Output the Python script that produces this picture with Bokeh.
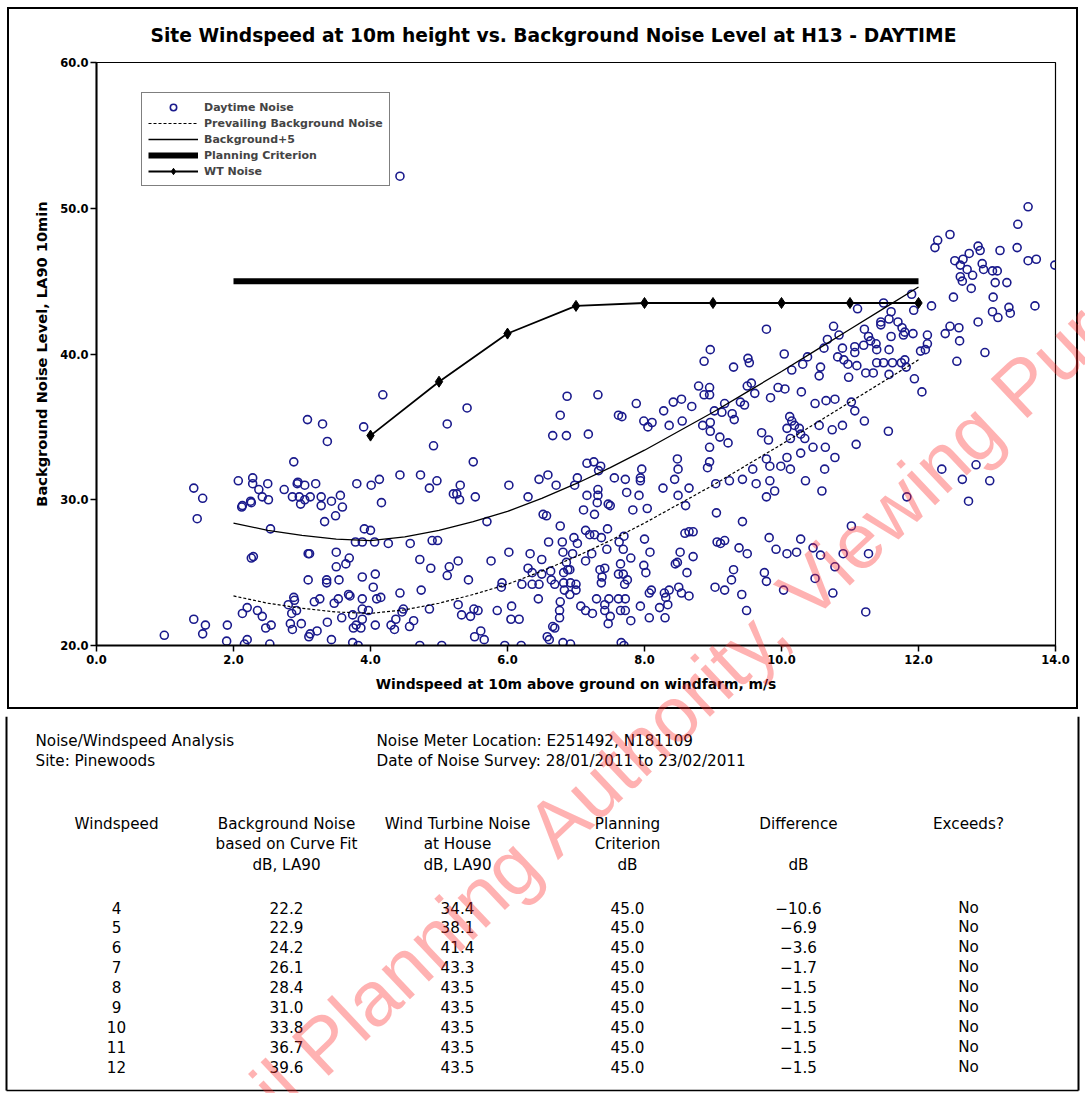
from bokeh.plotting import figure
from bokeh.layouts import column, row
from bokeh.models import (Range1d, Legend, LegendItem, FixedTicker,
                          NumeralTickFormatter)
from bokeh.core.properties import value
from bokeh.embed import file_html
from bokeh.resources import INLINE

# ---------------- data ----------------
wind_speed = [
    0.99, 1.42, 1.55, 1.47, 1.42, 1.59, 1.55, 1.91, 1.90,
    2.07, 2.12, 2.13, 2.25, 2.28, 2.28, 2.37, 2.42, 2.50, 2.51, 2.26, 2.54, 2.26, 2.29,
    2.20, 2.13, 2.35, 2.42, 2.55, 2.47, 2.20, 2.16, 2.53,
    2.74, 2.88, 2.93, 2.94, 3.04, 3.20, 2.86, 2.96, 2.98, 3.12, 3.04,
    3.08, 3.30, 3.37, 3.28, 3.28, 3.43, 3.56, 3.59, 3.33, 3.49,
    3.80, 3.90, 4.18, 4.01, 4.13, 4.16, 3.91, 4.00, 3.78, 3.88, 4.06, 4.26, 4.58,
    4.43, 4.73, 4.97, 4.86, 4.92, 5.12, 5.41, 5.21, 5.26, 5.31, 5.30,
    4.90, 4.98, 4.72, 4.88, 5.15, 5.28, 5.12, 5.43,
    4.74, 4.43, 4.86, 5.28, 5.33, 5.46, 4.72, 5.04,
    3.09, 3.11, 3.50, 3.69, 3.50, 3.64, 3.09, 3.36, 3.36, 3.54, 3.88, 4.07, 4.04,
    3.68, 3.70, 3.53, 3.47, 3.26, 3.18, 2.88, 2.89, 2.80, 2.85, 2.92,
    3.88, 4.09, 4.15, 3.88, 3.97, 3.74, 3.58, 4.48, 4.46, 4.37, 4.30, 4.35, 4.57, 4.63,
    4.07, 3.88, 3.86, 3.75, 3.79, 3.37, 2.99, 2.83, 2.86, 3.22, 3.10, 3.12, 3.43, 3.74, 3.82,
    4.43,
    6.87, 7.32, 6.77, 7.88, 7.62, 7.67, 6.66, 6.86, 7.18, 7.99, 8.11, 8.05, 8.28, 8.42, 8.54,
    8.36, 8.55, 8.69, 8.79, 8.95, 8.87, 8.95, 9.02, 9.13, 9.17, 8.85, 8.96, 8.96, 9.28, 9.31,
    9.40, 9.46, 9.10, 9.22, 8.95, 9.50, 9.61, 9.56, 9.84, 9.95, 10.05, 9.71, 9.81, 10.08,
    8.48, 8.49, 8.44, 8.95, 8.92, 9.04, 9.24, 9.43, 9.63, 9.58, 9.78, 9.83, 9.99, 10.08,
    9.83, 9.90, 9.78, 9.05, 9.43,
    5.53, 6.02, 6.30, 6.46, 6.59, 6.71, 7.02, 6.98, 7.16, 7.26, 7.36, 7.33, 7.56, 7.72, 7.94,
    7.96, 7.92, 7.94, 7.74, 7.50, 7.47, 7.32, 7.32, 7.16, 7.31, 7.11, 7.27, 7.83, 8.04, 8.27,
    8.49, 8.65, 8.60,
    5.70, 6.52, 6.57, 6.77, 7.14, 7.20, 7.27, 7.37, 7.46, 7.70, 7.63, 8.00, 8.59, 8.65, 8.71,
    9.06, 9.11, 9.17, 9.38, 9.50, 9.82, 9.92, 10.08,
    6.60, 6.80, 6.97, 7.02, 6.02, 6.33, 6.50, 5.76, 6.81, 6.95, 6.86, 6.91, 7.14, 7.23, 7.45,
    7.69, 7.80, 7.65, 8.08, 7.99, 8.02, 8.52, 8.48, 8.45, 8.71, 8.62, 9.30, 9.27, 9.75, 9.78,
    6.30, 6.36, 6.50, 6.21, 6.36, 6.46, 6.63, 6.64, 6.69, 6.82, 6.88, 6.82, 6.92, 7.00, 7.00,
    6.83, 6.91, 7.35, 7.42, 7.38, 7.37, 7.62, 7.69, 7.75, 7.71, 5.92, 5.91, 6.45, 6.06, 5.85,
    5.57, 5.51, 6.05, 6.17,
    6.77, 6.76, 6.76, 7.07, 7.14, 7.24, 7.30, 7.42, 7.48, 7.42, 7.50, 7.47, 7.62, 7.72, 7.65,
    7.72, 7.80, 7.94, 8.07, 8.10, 8.07, 8.29, 8.36, 8.31, 8.50, 8.54, 8.65, 8.22, 8.34, 8.30,
    9.03, 9.17, 9.42, 9.49, 10.03,
    6.66, 6.69, 6.58, 6.61, 5.61, 5.66, 5.52, 5.96, 6.20, 6.81, 6.92, 7.66, 7.70, 5.50,
    9.78, 8.96, 8.87, 9.30, 9.51, 9.53, 10.04, 10.15,
    10.76, 10.67, 10.84, 11.11, 11.49, 11.90, 11.93, 11.60, 11.57, 11.45, 11.45, 11.70, 11.76,
    11.80, 11.78, 11.92, 11.21, 11.60, 11.27, 11.30, 11.38, 11.39, 11.07, 11.07, 11.20, 11.57,
    10.89, 10.82, 10.91, 10.97, 11.10, 10.98, 11.39, 11.49, 11.62, 11.75, 11.80, 11.82, 11.57,
    11.94, 11.23, 11.34, 10.57, 10.55,
    11.02, 11.07, 11.21, 11.56, 11.09, 10.78, 10.65, 10.49, 10.89, 10.74, 10.78, 10.63, 10.55,
    10.46, 10.64, 10.28, 10.29, 10.26, 10.34,
    10.12, 10.15, 10.19, 10.13, 10.28, 10.31, 10.38, 10.62,
    13.60, 13.45, 12.46, 12.28, 12.24, 12.87, 12.90, 13.19, 13.44, 13.60, 13.72, 13.99, 12.53,
    12.65, 12.74, 12.61, 12.71, 12.79, 12.64, 12.61, 12.77, 12.93, 12.95, 13.08, 13.15, 13.12,
    13.29, 13.09, 13.32, 13.34, 13.08, 13.16, 13.70, 12.51, 12.87, 12.19, 12.46, 12.59, 12.39,
    12.60, 12.56, 12.97, 12.13, 12.13, 12.10, 12.03, 12.05,
    12.34, 12.84, 12.64, 13.04, 12.73, 11.83, 10.13, 10.35, 10.59, 11.02, 10.28, 10.22, 10.46,
    10.57, 10.90, 11.27, 10.78, 10.49, 10.75, 11.23,
]
noise_level = [
    20.7, 30.8, 30.1, 28.7, 21.8, 21.4, 20.8, 21.4, 20.3,
    31.3, 29.5, 29.6, 29.9, 31.5, 31.1, 30.7, 30.2, 31.1, 30.0, 29.8, 28.0, 26.0, 26.1,
    22.6, 22.2, 22.4, 22.0, 21.4, 21.2, 20.4, 20.1, 20.1,
    30.7, 32.6, 31.1, 31.2, 31.0, 31.1, 30.2, 30.2, 29.7, 30.2, 30.0,
    35.5, 35.2, 34.0, 30.2, 29.6, 29.9, 30.3, 29.5, 28.5, 28.9,
    31.1, 35.0, 37.2, 31.0, 31.4, 29.8, 28.0, 27.9, 27.1, 27.1, 27.1, 27.0, 27.0,
    31.7, 31.7, 31.3, 30.8, 33.7, 35.2, 36.3, 30.4, 30.4, 31.0, 30.0,
    27.2, 27.2, 25.9, 25.3, 25.4, 25.8, 24.8, 24.5,
    23.8, 23.6, 22.5, 22.8, 22.1, 22.0, 20.0, 20.0,
    26.3, 26.3, 26.4, 26.0, 25.4, 25.6, 24.5, 24.5, 24.3, 24.5, 24.7, 24.9, 24.0,
    23.5, 23.4, 23.2, 22.9, 23.2, 23.0, 23.3, 23.1, 22.8, 22.2, 22.4,
    23.2, 23.2, 23.3, 22.5, 22.4, 22.1, 21.9, 22.5, 22.3, 21.8, 21.4, 21.1, 21.3, 21.7,
    21.4, 21.8, 21.2, 21.2, 21.4, 21.6, 21.5, 21.5, 21.1, 21.0, 20.6, 20.8, 20.4, 20.2, 20.0,
    52.2,
    37.1, 37.2, 35.8, 36.6, 35.8, 35.7, 34.4, 34.4, 34.5, 35.4, 35.3, 35.0, 36.1, 36.7, 36.9,
    35.1, 35.4, 36.4, 37.8, 37.7, 37.2, 37.2, 36.1, 36.0, 36.6, 35.1, 35.3, 34.7, 35.9, 35.5,
    36.7, 36.5, 34.3, 33.9, 33.6, 37.8, 37.3, 38.0, 37.0, 37.7, 37.6, 34.6, 34.1, 34.9,
    32.8, 32.1, 31.4, 32.6, 32.2, 31.1, 31.3, 31.4, 31.1, 32.1, 32.8, 32.3, 32.3, 32.9,
    31.3, 30.6, 30.2, 29.1, 28.5,
    30.2, 31.0, 30.2, 31.4, 31.7, 31.0, 31.5, 31.0, 32.5, 32.6, 32.3, 32.0, 31.5, 31.4, 31.5,
    32.1, 30.3, 31.3, 30.5, 29.6, 29.7, 30.7, 30.3, 30.3, 29.8, 29.3, 29.0, 29.3, 29.4, 30.8,
    30.3, 30.8, 29.6,
    28.5, 29.0, 28.9, 28.2, 27.9, 27.6, 27.6, 27.4, 28.0, 27.5, 27.1, 27.3, 27.7, 27.8, 27.8,
    27.1, 27.0, 27.2, 26.7, 26.3, 27.4, 26.6, 26.3,
    27.1, 27.1, 27.4, 27.0, 26.4, 26.3, 25.9, 25.8, 26.4, 26.3, 25.7, 25.2, 25.8, 26.3, 26.6,
    26.6, 26.0, 25.6, 26.4, 25.5, 25.0, 26.4, 25.7, 25.6, 26.1, 25.0, 25.2, 24.5, 25.0, 24.4,
    25.3, 25.0, 24.9, 24.2, 24.2, 24.2, 25.1, 24.5, 24.2, 25.0, 25.2, 24.3, 24.3, 24.2, 23.8,
    23.8, 23.5, 25.2, 25.3, 24.7, 24.3, 24.9, 24.9, 24.5, 24.2, 24.3, 24.0, 23.2, 22.7, 22.4,
    22.4, 22.5, 21.8, 21.8,
    23.0, 22.4, 21.9, 22.7, 22.4, 22.2, 23.2, 22.8, 23.2, 22.4, 22.0, 21.5, 23.2, 23.2, 22.4,
    22.4, 21.7, 22.7, 21.9, 23.8, 23.6, 23.6, 23.8, 23.3, 24.0, 23.6, 23.4, 22.6, 22.8, 21.9,
    24.0, 23.8, 23.5, 22.4, 23.8,
    21.3, 21.2, 20.6, 20.4, 21.0, 20.4, 20.6, 20.0, 20.0, 20.2, 20.1, 20.2, 20.0, 32.6,
    41.7, 40.3, 39.5, 39.1, 39.7, 39.4, 40.0, 38.9,
    41.9, 41.0, 41.3, 43.1, 43.5, 44.1, 43.0, 42.9, 42.4, 42.2, 42.0, 42.2, 41.8,
    41.5, 41.3, 41.4, 41.7, 41.2, 41.2, 40.9, 40.7, 40.3, 40.5, 40.1, 40.6, 40.3,
    40.4, 39.8, 39.6, 39.3, 39.2, 38.4, 39.4, 39.4, 39.4, 39.4, 39.6, 39.1, 38.6,
    38.3, 38.7, 38.7, 39.1, 38.5,
    36.7, 36.1, 35.4, 34.7, 33.8, 36.9, 36.8, 36.6, 35.1, 34.8, 32.9, 32.1, 35.1,
    33.6, 33.6, 33.2, 37.4, 34.9, 34.2,
    35.7, 35.4, 35.1, 34.2, 34.5, 39.3, 39.8, 40.4,
    50.1, 48.9, 48.2, 47.8, 47.3, 47.4, 47.1, 47.1, 47.3, 46.4, 46.5, 46.1, 46.4,
    46.5, 46.9, 46.1, 45.8, 45.4, 45.0, 45.3, 44.5, 46.2, 45.8, 45.7, 45.7, 44.9,
    44.9, 43.9, 43.2, 42.8, 42.9, 42.5, 43.3, 43.9, 42.2, 43.3, 41.9, 41.8, 41.4,
    40.9, 39.5, 40.1, 41.3, 40.7, 40.3, 40.2, 37.4,
    32.1, 32.4, 31.4, 31.3, 29.9, 30.2, 32.1, 31.3, 30.6, 28.2, 27.3, 26.4, 26.7,
    26.2, 26.3, 26.3, 25.4, 24.6, 23.6, 22.3,
]

curve_speed = [2.0, 2.5, 3.0, 3.5, 4.0, 4.5, 5.0, 5.5, 6.0, 6.5, 7.0, 7.5, 8.0, 8.5,
               9.0, 9.5, 10.0, 10.5, 11.0, 11.5, 12.0]
prevailing_background = [23.4, 22.9, 22.55, 22.3, 22.2, 22.45, 22.9, 23.5, 24.2, 25.1,
                         26.1, 27.2, 28.4, 29.7, 31.0, 32.4, 33.8, 35.25, 36.7, 38.15, 39.6]
background_plus5 = [28.4, 27.9, 27.55, 27.3, 27.2, 27.45, 27.9, 28.5, 29.2, 30.1,
                    31.1, 32.2, 33.4, 34.7, 36.0, 37.4, 38.8, 40.25, 41.7, 43.15, 44.6]
criterion_speed = [2.0, 12.0]
criterion_level = [45.0, 45.0]

table_speed = [4, 5, 6, 7, 8, 9, 10, 11, 12]
table_background = [22.2, 22.9, 24.2, 26.1, 28.4, 31.0, 33.8, 36.7, 39.6]
table_wt_noise = [34.4, 38.1, 41.4, 43.3, 43.5, 43.5, 43.5, 43.5, 43.5]
table_criterion = [45.0, 45.0, 45.0, 45.0, 45.0, 45.0, 45.0, 45.0, 45.0]
table_difference = [-10.6, -6.9, -3.6, -1.7, -1.5, -1.5, -1.5, -1.5, -1.5]
table_exceeds = ["No", "No", "No", "No", "No", "No", "No", "No", "No"]

x_ticks = [0, 2, 4, 6, 8, 10, 12, 14]
y_ticks = [20, 30, 40, 50, 60]

# ---------------- layout constants (page pixels) ----------------
W, H = 1085, 1093
H1 = 716                      # height of the chart part
FL, FR, FT, FB = 96, 1055, 62, 645   # plot frame edges on the page

WM_TEXT_A = "Planning Authority, Viewing Purposes Only"
WM_TEXT_B = "Council "
WM_X, WM_Y, WM_ANGLE = 305, 1060, 0.755
WM_FONT, WM_SIZE, WM_COLOR, WM_ALPHA = "Liberation Sans", "78px", "#ff2a2a", 0.36

# ---------------- chart figure ----------------
p = figure(width=W, height=H1, x_range=Range1d(0, 14), y_range=Range1d(20, 60),
           output_backend="svg", toolbar_location=None,
           min_border_left=FL, min_border_right=W - FR,
           min_border_top=FT, min_border_bottom=H1 - FB)
# page frame around the chart part (drawn by the page, behind a transparent border)
p.styles = {"box-shadow": "inset 0 0 0 7px white, inset 0 0 0 9px black",
            "background-color": "white"}
p.grid.visible = False
p.outline_line_color = "black"
p.outline_line_width = 1.2
p.background_fill_color = "white"
p.border_fill_color = None

p.title.text = "Site Windspeed at 10m height vs. Background Noise Level at H13 - DAYTIME"
p.title.align = "left"
p.title.offset = 150 - FL
p.title.text_font = "DejaVu Sans"
p.title.text_font_size = "18.7px"
p.title.text_font_style = "bold"
p.title.text_color = "black"
p.title.standoff = 33

for ax in (p.xaxis[0], p.yaxis[0]):
    ax.axis_line_width = 2
    ax.axis_line_color = "black"
    ax.major_tick_line_width = 1.5
    ax.major_tick_out = 6
    ax.major_tick_in = 0
    ax.minor_tick_line_color = None
    ax.major_label_text_font = "DejaVu Sans"
    ax.major_label_text_font_style = "bold"
    ax.major_label_text_font_size = "11.5px"
    ax.major_label_text_color = "black"
    ax.axis_label_text_font = "DejaVu Sans"
    ax.axis_label_text_font_style = "bold"
    ax.axis_label_text_color = "black"
    ax.formatter = NumeralTickFormatter(format="0.0")

p.xaxis.axis_label_text_font_size = "13.9px"
p.yaxis.axis_label_text_font_size = "14.6px"
p.xaxis.ticker = FixedTicker(ticks=x_ticks)
p.yaxis.ticker = FixedTicker(ticks=y_ticks)
p.xaxis.axis_label = "Windspeed at 10m above ground on windfarm, m/s"
p.yaxis.axis_label = "Background Noise Level, LA90 10min"
p.xaxis.major_label_standoff = 3
p.yaxis.major_label_standoff = 2
p.xaxis.axis_label_standoff = 9
p.yaxis.axis_label_standoff = 7

r_pts = p.scatter(wind_speed, noise_level, marker="circle", size=8,
                  fill_color=None, line_color="#1a1a8c", line_width=1.6)
r_prev = p.line(curve_speed, prevailing_background, line_color="black",
                line_width=1.2, line_dash="3 2")
r_bg5 = p.line(curve_speed, background_plus5, line_color="black", line_width=1.3)
r_crit = p.line(criterion_speed, criterion_level, line_color="black", line_width=6)
r_wt = p.line(table_speed, table_wt_noise, line_color="black", line_width=1.8)
r_wtm = p.scatter(table_speed, table_wt_noise, marker="diamond", size=11,
                  fill_color="black", line_color="black")

legend = Legend(items=[
    LegendItem(label="Daytime Noise", renderers=[r_pts]),
    LegendItem(label="Prevailing Background Noise", renderers=[r_prev]),
    LegendItem(label="Background+5", renderers=[r_bg5]),
    LegendItem(label="Planning Criterion", renderers=[r_crit]),
    LegendItem(label="WT Noise", renderers=[r_wt, r_wtm]),
], location=(45, FB - 186))
legend.border_line_color = "black"
legend.border_line_width = 1.5
legend.background_fill_color = "white"
legend.background_fill_alpha = 1
legend.label_text_font = "DejaVu Sans"
legend.label_text_font_style = "bold"
legend.label_text_font_size = "11px"
legend.glyph_width = 50
legend.glyph_height = 16
legend.label_height = 16
legend.spacing = 0
legend.padding = 6
legend.margin = 0
legend.label_standoff = 6
p.add_layout(legend)

# ---------------- table figure ----------------
H2 = H - H1
t = figure(width=W, height=H2, x_range=Range1d(0, W), y_range=Range1d(0, H2),
           output_backend="svg", toolbar_location=None,
           x_axis_location=None, y_axis_location=None,
           min_border=0, min_border_left=0, min_border_right=0,
           min_border_top=0, min_border_bottom=0)
t.grid.visible = False
t.outline_line_color = None
t.background_fill_color = "white"
t.border_fill_color = "white"


def ty(y):
    return H - y


# box edges of the table panel
t.line([6, 6], [ty(716), ty(1090)], line_color="black", line_width=2)
t.line([1078, 1078], [ty(716), ty(1090)], line_color="black", line_width=2)
t.line([6, 1078], [ty(1090), ty(1090)], line_color="black", line_width=1.5)

txt_x, txt_y, txt_s, txt_a = [], [], [], []


def put(s, x, y, align="center"):
    txt_x.append(x)
    txt_y.append(ty(y))
    txt_s.append(s)
    txt_a.append(align)


put("Noise/Windspeed Analysis", 35, 740, "left")
put("Site: Pinewoods", 35, 760, "left")
put("Noise Meter Location: E251492, N181109", 376, 740, "left")
put("Date of Noise Survey: 28/01/2011 to 23/02/2011", 376, 760, "left")

col_x = [116, 286, 457, 627, 798, 968]
headers = [
    ["Windspeed"],
    ["Background Noise", "based on Curve Fit", "dB, LA90"],
    ["Wind Turbine Noise", "at House", "dB, LA90"],
    ["Planning", "Criterion", "dB"],
    ["Difference", "", "dB"],
    ["Exceeds?"],
]
for cx, lines in zip(col_x, headers):
    for k, s in enumerate(lines):
        if s:
            put(s, cx, 823 + 20.5 * k)

for i in range(len(table_speed)):
    yy = 907 + 19.9 * i
    diff = table_difference[i]
    put(str(table_speed[i]), col_x[0], yy)
    put(f"{table_background[i]:.1f}", col_x[1], yy)
    put(f"{table_wt_noise[i]:.1f}", col_x[2], yy)
    put(f"{table_criterion[i]:.1f}", col_x[3], yy)
    put(("\u2212" if diff < 0 else "") + f"{abs(diff):.1f}", col_x[4], yy)
    put(table_exceeds[i], col_x[5], yy)

t.text(x=txt_x, y=txt_y, text=txt_s, text_align=txt_a, text_baseline="middle",
       text_font=value("DejaVu Sans"), text_font_size=value("15.2px"),
       text_color="black")

# ---------------- transparent overlay carrying the watermark ----------------
ov = figure(width=W, height=H, x_range=Range1d(0, W), y_range=Range1d(0, H),
            output_backend="svg", toolbar_location=None,
            x_axis_location=None, y_axis_location=None,
            min_border=0, min_border_left=0, min_border_right=0,
            min_border_top=0, min_border_bottom=0)
ov.grid.visible = False
ov.outline_line_color = None
ov.background_fill_color = None
ov.border_fill_color = None
for txt, al in ((WM_TEXT_A, "left"), (WM_TEXT_B, "right")):
    ov.text(x=[WM_X], y=[H - WM_Y], text=[txt], text_align=al,
            text_baseline="alphabetic", angle=WM_ANGLE,
            text_font=value(WM_FONT), text_font_size=value(WM_SIZE),
            text_color=WM_COLOR, text_alpha=WM_ALPHA)

layout = column(p, row(t), row(ov, styles={"margin-top": f"-{H}px",
                                           "pointer-events": "none"}),
                spacing=0)
open("out.html", "w").write(file_html(layout, INLINE))
